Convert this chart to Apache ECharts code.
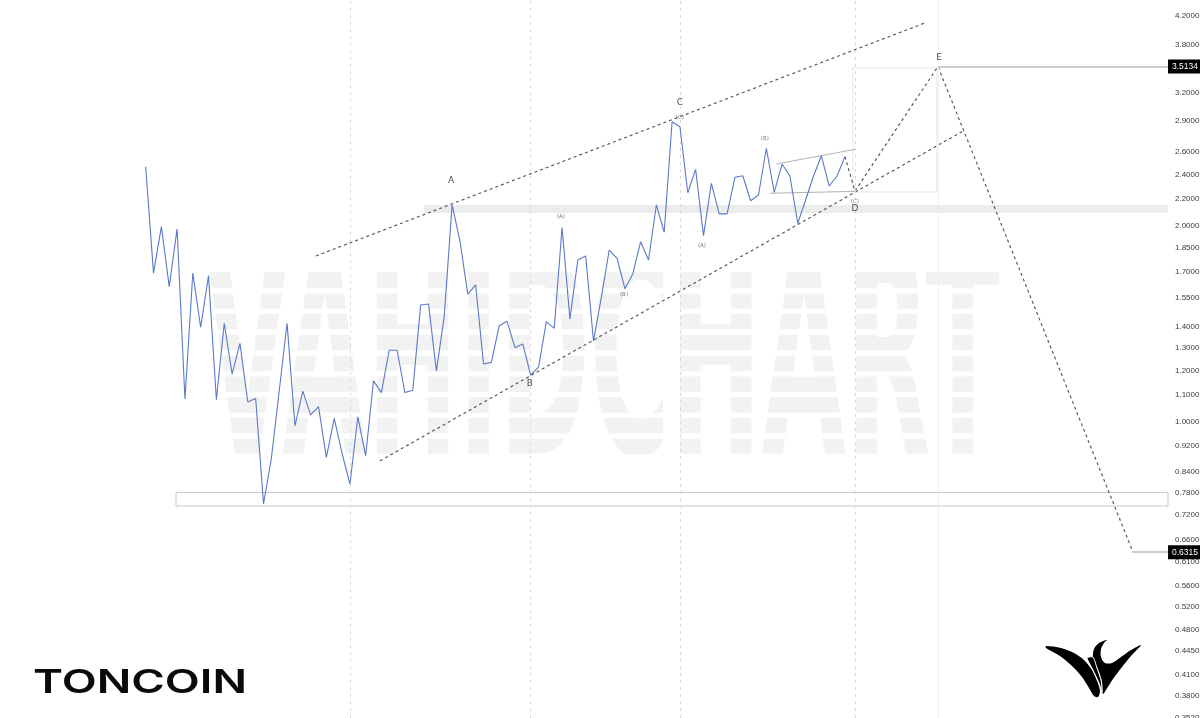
<!DOCTYPE html>
<html><head><meta charset="utf-8">
<script src="https://cdn.jsdelivr.net/npm/echarts@6/dist/echarts.min.js"></script>
<style>html,body{margin:0;padding:0;background:#fff}#c{width:1200px;height:718px}</style>
</head><body><div id="c"></div>
<script>
// ---- data (bar index, weekly closes) ----
const closes = [2.466,1.693,1.995,1.614,1.979,1.085,1.693,1.398,1.678,1.082,
  1.418,1.185,1.321,1.074,1.087,0.749,0.880,1.117,1.418,0.987,
  1.116,1.026,1.056,0.883,1.013,0.895,0.803,1.019,0.888,1.157,
  1.110,1.289,1.289,1.110,1.119,1.513,1.518,1.198,1.452,2.154,
  1.898,1.572,1.624,1.228,1.235,1.406,1.428,1.301,1.318,1.181,
  1.214,1.426,1.393,1.988,1.440,1.773,1.799,1.332,1.554,1.837,
  1.784,1.602,1.688,1.892,1.773,2.154,1.956,2.891,2.840,2.249,
  2.443,1.933,2.325,2.087,2.087,2.375,2.388,2.186,2.231,2.632,
  2.252,2.489,2.386,2.019,2.192,2.386,2.561,2.303,2.386,2.555];
const tickValues = [4.2,3.8,3.2,2.9,2.6,2.4,2.2,2.0,1.85,1.7,1.55,1.4,1.3,1.2,1.1,1.0,0.92,0.84,0.78,0.72,0.66,0.61,0.56,0.52,0.48,0.445,0.41,0.38,0.352];
const upperChannel = [[21.67,1.799],[99.18,4.098]];
const lowerChannel = [[29.82,0.872],[104.27,2.807]];
const projection = [[89,2.555],[90.28,2.263],[100.84,3.5134],[125.67,0.6315]];
const triangleUpper = [[80.31,2.490],[90.28,2.622]];
const triangleLower = [[79.46,2.245],[90.28,2.260]];
const levelE = [100.84, 3.5134];
const levelTarget = [125.67, 0.6315];
const supportZone = [3.86, 0.7435, 0.78];      // start bar, low, high
const resistanceBand = [35.42, 2.094, 2.154];  // start bar, low, high
const boxZone = [[90.02, 3.495],[100.7, 2.255]];
const timeMarks = [26, 49, 68, 90.28];
const timeMarkE = 100.84;
const waveLabels = [
  ['A',38.86,2.344,'big'],['B',48.91,1.144,'big'],['C',68.0,3.089,'big'],
  ['D',90.27,2.123,'big'],['E',100.97,3.621,'big'],
  ['(A)',52.86,2.064,'small'],['(B)',60.88,1.567,'small'],['(C)',68.0,2.929,'small'],
  ['(A)',70.8,1.863,'small'],['(B)',78.8,2.720,'small'],['(C)',90.27,2.177,'small']
];
const X_MIN = -18.54, X_MAX = 130.12, Y_MIN = 0.3515, Y_MAX = 4.444;

// ---- build ----
const priceData = closes.map((v,i)=>[i,v]);
const chart = echarts.init(document.getElementById('c'), null, {renderer:'canvas'});

function fitScale(text, font, w){
  const ctx = document.createElement('canvas').getContext('2d');
  ctx.font = font; return w / ctx.measureText(text).width;
}
const wmFont = 'bold 288px "DejaVu Sans"';
const wmScale = fitScale('VAHIDCHART', wmFont, 795);
const tcFont = '600 33px Inter, "DejaVu Sans", sans-serif';
const tcScale = fitScale('TONCOIN', tcFont, 214);

const logoLeft = [[1046,646],[1061,648],[1074,653],[1084,660],[1092,670],[1097,681],[1100,691],[1098,697],[1094,696],[1089,688],[1082,677],[1072,666],[1060,656],[1046,648]];
const logoRight = [[1107,640],[1099,643],[1094,649],[1093,657],[1096,665],[1099,672],[1102,682],[1103,694],[1106,690],[1113,679],[1122,667],[1131,656],[1141,645],[1131,650],[1121,657],[1112,663],[1105,663],[1101,657],[1101,649],[1104,643]];
const logoBridge = [[1087,658],[1093,657],[1097,668],[1101,680],[1102,692],[1099,683],[1093,670]];

const stripeYs = [288.3,308.8,329.5,350.2,371.2,391.9,412.8,433.4];
const graphics = [
  {type:'text', x:205, y:379, scaleX:wmScale, z:-10, silent:true,
   style:{text:'VAHIDCHART', font:wmFont, fill:'#f2f2f2', align:'left', verticalAlign:'middle'}},
  ...stripeYs.map(y=>({type:'rect', z:-9, silent:true, shape:{x:195,y:y,width:820,height:5.2}, style:{fill:'#fff'}})),
  {type:'rect', z:-9, silent:true, shape:{x:195,y:230,width:820,height:42}, style:{fill:'#fff'}},
  {type:'rect', z:-9, silent:true, shape:{x:195,y:454.5,width:820,height:40}, style:{fill:'#fff'}},
  {type:'text', x:33, y:683, scaleX:tcScale, z:10, silent:true,
   style:{text:'TONCOIN', font:tcFont, fill:'#0a0a0a', align:'left', verticalAlign:'middle'}},
  {type:'polygon', z:10, silent:true, shape:{points:logoLeft, smooth:0.3}, style:{fill:'#000'}},
  {type:'polygon', z:10, silent:true, shape:{points:logoRight, smooth:0.3}, style:{fill:'#000'}},
  {type:'polygon', z:10, silent:true, shape:{points:logoBridge, smooth:0.2}, style:{fill:'#000', stroke:'#fff', lineWidth:1}}
];

const dashed = {color:'#555', width:1.15, type:[3,3]};
function lineSeries(name, data, style, z){
  return {name, type:'line', data, symbol:'none', silent:true, z:z||4, lineStyle:style, animation:false};
}

const option = {
  animation:false,
  backgroundColor:'#ffffff',
  grid:{left:0, right:32, top:0, bottom:0, containLabel:false, outerBoundsMode:'none'},
  xAxis:{type:'value', min:X_MIN, max:X_MAX, show:false, splitLine:{show:false}},
  yAxis:{type:'log', logBase:10, min:Y_MIN, max:Y_MAX, position:'right',
    axisLine:{show:false}, axisTick:{show:false}, splitLine:{show:false},
    axisLabel:{customValues:tickValues, margin:7, fontSize:8, color:'#3a3a3a', fontFamily:'"Liberation Sans", Arial, sans-serif',
      formatter:v=>Number(v).toFixed(4)}},
  graphic:graphics,
  series:[
    {name:'zones', type:'line', data:priceData, symbol:'none', silent:true, z:1, lineStyle:{opacity:0}, animation:false,
     markArea:{silent:true, data:[
       [{coord:[supportZone[0], supportZone[2]], itemStyle:{color:'#ffffff', borderColor:'#c9c9c9', borderWidth:1}},
        {coord:[X_MAX, supportZone[1]]}],
       [{coord:[resistanceBand[0], resistanceBand[2]], itemStyle:{color:'#ececec', borderWidth:0}},
        {coord:[X_MAX, resistanceBand[1]]}],
       [{coord:boxZone[0], itemStyle:{color:'rgba(0,0,0,0)', borderColor:'#e6e6e6', borderWidth:1}},
        {coord:boxZone[1]}]
     ]},
     markLine:{silent:true, symbol:'none', label:{show:false}, data:[
       ...timeMarks.map(x=>({xAxis:x, lineStyle:{color:'#d9d9d9', width:1, type:[3,4]}})),
       {xAxis:timeMarkE, lineStyle:{color:'#efefef', width:1, type:'solid'}}
     ]}},
    lineSeries('upper channel', upperChannel, dashed),
    lineSeries('lower channel', lowerChannel, dashed),
    lineSeries('projection', projection, dashed),
    lineSeries('triangle upper', triangleUpper, {color:'#b3b3b3', width:1}),
    lineSeries('triangle lower', triangleLower, {color:'#b3b3b3', width:1}),
    {name:'levels', type:'line', data:[], symbol:'none', silent:true, z:3,
     markLine:{silent:true, symbol:'none', animation:false,
       label:{show:true, position:'end', distance:0, color:'#fff', backgroundColor:'#000', padding:[3,3,2,4], fontSize:8.5,
         fontFamily:'"Liberation Sans", Arial, sans-serif', formatter:'{b}'},
       lineStyle:{color:'#bdbdbd', width:1.5, type:'solid'},
       data:[
         [{coord:levelE, name:levelE[1].toFixed(4)}, {coord:[X_MAX, levelE[1]]}],
         [{coord:levelTarget, name:levelTarget[1].toFixed(4)}, {coord:[X_MAX, levelTarget[1]]}]
       ]}},
    {name:'TONCOIN', type:'line', data:priceData, symbol:'none', z:6, silent:true,
     lineStyle:{color:'#5b79c9', width:1.1}},
    {name:'waves', type:'scatter', symbolSize:0, z:7, silent:true,
     data:waveLabels.map(w=>({name:w[0], value:[w[1], w[2]],
       label:w[3]==='big' ? {fontSize:9, color:'#222'} : {fontSize:5.5, color:'#555'}})),
     label:{show:true, position:'inside', formatter:'{b}', fontFamily:'"DejaVu Sans", sans-serif'}}
  ]
};
chart.setOption(option);
</script></body></html>
